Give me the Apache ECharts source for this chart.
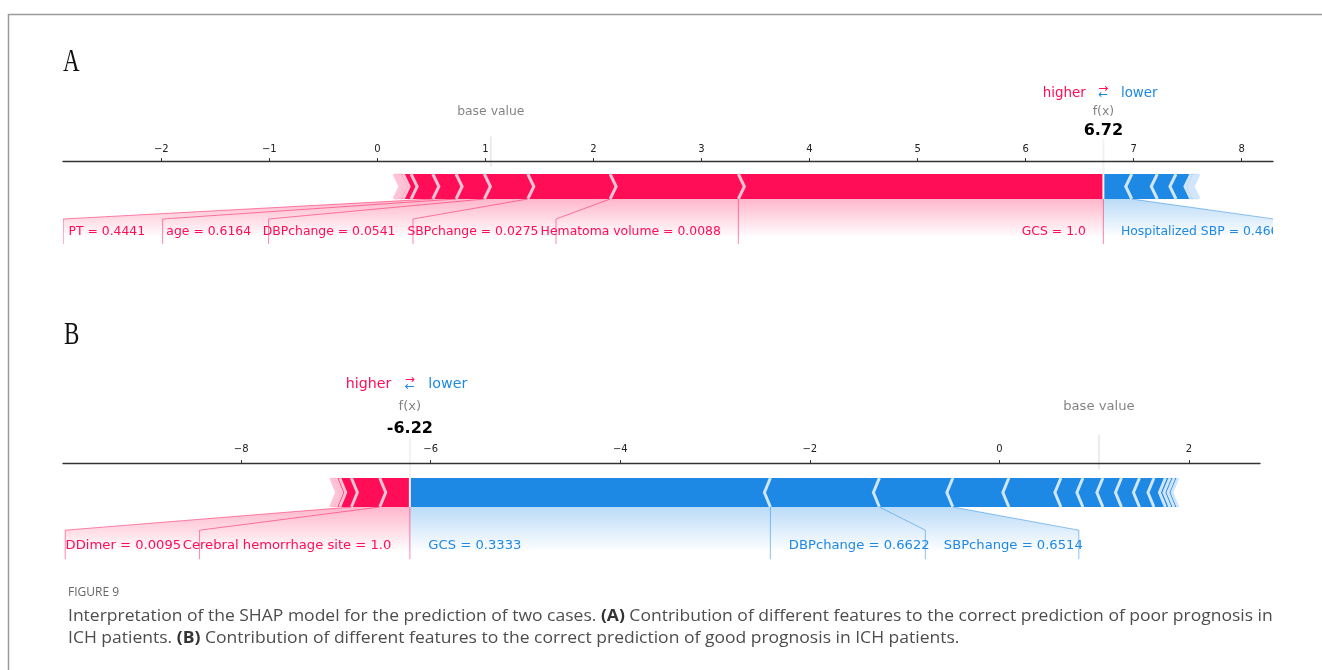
<!DOCTYPE html>
<html>
<head>
<meta charset="utf-8">
<script src="https://cdn.jsdelivr.net/npm/echarts@6/dist/echarts.min.js"></script>
<style>
  html, body { margin: 0; padding: 0; background: #fff; }
  #chart { width: 1322px; height: 670px; }
</style>
</head>
<body>
<div id="chart"></div>
<script>
// SHAP force plots for two ICH cases.
const baseValue = 1.05;

// Case A: poor prognosis
const fxA = 6.72;
const posNamesA = ['GCS', 'Hematoma volume', 'SBPchange', 'DBPchange', 'age', 'PT'];
const posFeatA = ['1.0', '0.0088', '0.0275', '0.0541', '0.6164', '0.4441'];
const posShapA = [3.379, 1.187, 0.762, 0.402, 0.262, 0.215, 0.201, 0.074, 0.030, 0.025, 0.015, 0.013];
const negNamesA = ['Hospitalized SBP'];
const negFeatA = ['0.4667'];
const negShapA = [0.263, 0.236, 0.173, 0.139, 0.030, 0.020, 0.014, 0.010];
const ticksA = [-2, -1, 0, 1, 2, 3, 4, 5, 6, 7, 8];
const rangeA = [-2.91, 8.29];

// Case B: good prognosis
const fxB = -6.22;
const posNamesB = ['Cerebral hemorrhage site', 'DDimer'];
const posFeatB = ['1.0', '0.0095'];
const posShapB = [0.318, 0.299, 0.123, 0.040, 0.030, 0.025];
const negNamesB = ['GCS', 'DBPchange', 'SBPchange'];
const negFeatB = ['0.3333', '0.6622', '0.6514'];
const negShapB = [3.804, 1.150, 0.775, 0.591, 0.549, 0.232, 0.211, 0.196, 0.190, 0.153, 0.121, 0.047, 0.043, 0.042];
const ticksB = [-8, -6, -4, -2, 0, 2];
const rangeB = [-9.88, 2.75];

// ---- drawing helpers ----
const RED = '#FF0D57', RED_L = '#FFC3D5', BLUE = '#1E88E5', BLUE_L = '#D1E6FA';
const FAM = 'DejaVu Sans';
const BAR_W = 0.1;         // bar thickness in y units
const OFFSET_K = 0.0218;   // text offset relative to total effect

const measureCtx = document.createElement('canvas').getContext('2d');
function textWidth(t, fs) {
  measureCtx.font = fs + 'px "' + FAM + '"';
  return measureCtx.measureText(t).width;
}
const sum = a => a.reduce((s, v) => s + v, 0);

// fs: label font size; layoutK: share of the label width used when placing brackets
function makePanel(fx, posShap, posNames, posFeat, negShap, negNames, negFeat, range, fs, layoutK) {
  return {
    fx, posShap, posNames, posFeat, negShap, negNames, negFeat, range, fs, layoutK,
    offset: OFFSET_K * (sum(posShap) + sum(negShap)),
    sepW: (range[1] - range[0]) / 200
  };
}
const panelA = makePanel(fxA, posShapA, posNamesA, posFeatA, negShapA, negNamesA, negFeatA, rangeA, 12.4, 0.80);
const panelB = makePanel(fxB, posShapB, posNamesB, posFeatB, negShapB, negNamesB, negFeatB, rangeB, 13.15, 0.815);

function barElements(api, P, positive) {
  const shap = positive ? P.posShap : P.negShap;
  const col = positive ? [RED, RED_L] : [BLUE, BLUE_L];
  const indent = positive ? P.sepW : -P.sepW;
  const C = p => api.coord(p);
  const rects = [], seps = [];
  let pre = P.fx;
  shap.forEach((v, i) => {
    let left, right, sepPos;
    if (positive) { right = pre; left = pre - v; pre = left; sepPos = left; }
    else { left = pre; right = pre + v; pre = right; sepPos = right; }
    let pts;
    if (i === 0) {
      pts = positive
        ? [[left, 0], [right, 0], [right, BAR_W], [left, BAR_W], [left + indent, BAR_W / 2]]
        : [[right, 0], [left, 0], [left, BAR_W], [right, BAR_W], [right + indent, BAR_W / 2]];
    } else {
      pts = [[left, 0], [right, 0], [right + indent * 0.9, BAR_W / 2], [right, BAR_W],
             [left, BAR_W], [left + indent * 0.9, BAR_W / 2]];
    }
    rects.push({ type: 'polygon', shape: { points: pts.map(C) }, style: { fill: col[0] } });
    seps.push({
      type: 'polyline',
      shape: { points: [[sepPos, 0], [sepPos + indent, BAR_W / 2], [sepPos, BAR_W]].map(C) },
      style: { stroke: col[1], lineWidth: 3, fill: null }
    });
  });
  return rects.concat(seps);
}

function labelElements(api, P, positive) {
  const shap = positive ? P.posShap : P.negShap;
  const names = positive ? P.posNames : P.negNames;
  const feats = positive ? P.posFeat : P.negFeat;
  const col = positive ? RED : BLUE;
  const lineCol = positive ? 'rgba(255,13,87,0.5)' : 'rgba(30,136,229,0.5)';
  const shadeCol = positive ? '255,13,87' : '30,136,229';
  const sign = positive ? 1 : -1;
  const X = v => api.coord([v, 0])[0];
  const Y = y => api.coord([0, y])[1];
  const offPx = P.offset * api.size([1, 0])[0];
  const pad = 0.25 * P.fs;
  const fxPx = X(P.fx);
  const lines = [], texts = [];
  let start = fxPx, preVal = fxPx, boxEnd = fxPx;
  const vline = x => ({ type: 'line', shape: { x1: x, y1: Y(0), x2: x, y2: Y(-0.18) },
                        style: { stroke: lineCol, lineWidth: 1 } });
  if (positive) lines.push(vline(fxPx));
  let cur = P.fx;
  for (let i = 0; i < names.length; i++) {
    cur = cur - sign * shap[i];
    const valPx = X(cur);
    const text = names[i] + ' = ' + feats[i];
    const tx = start - sign * offPx;
    texts.push({
      type: 'text', x: tx, y: Y(-0.15) - 0.35 * P.fs,
      style: { text, fill: col, fontSize: P.fs, fontFamily: FAM,
               align: positive ? 'right' : 'left', verticalAlign: 'middle' }
    });
    const be = tx - sign * (textWidth(text, P.fs) * P.layoutK + pad);
    if (sign * be > sign * valPx) {
      lines.push(vline(valPx));
      start = valPx; boxEnd = valPx;
    } else {
      boxEnd = be - sign * offPx;
      lines.push({ type: 'polyline',
        shape: { points: [[valPx, Y(0)], [boxEnd, Y(-0.08)], [boxEnd, Y(-0.18)]] },
        style: { stroke: lineCol, lineWidth: 1, fill: null } });
      start = boxEnd;
    }
    preVal = valPx;
  }
  const shade = {
    type: 'polygon',
    shape: { points: [[fxPx, Y(0)], [preVal, Y(0)], [boxEnd, Y(-0.08)], [boxEnd, Y(-0.2)], [fxPx, Y(-0.2)]] },
    style: { fill: new echarts.graphic.LinearGradient(0, 0, 0, 1, [
      { offset: 0, color: 'rgba(' + shadeCol + ',0.3)' },
      { offset: 0.775, color: 'rgba(' + shadeCol + ',0)' },
      { offset: 1, color: 'rgba(' + shadeCol + ',0)' }
    ]) }
  };
  return { shade, lines, texts };
}

function buildMain(api, P) {
  const neg = labelElements(api, P, false);
  const pos = labelElements(api, P, true);
  return [neg.shade, pos.shade]
    .concat(barElements(api, P, false), barElements(api, P, true))
    .concat(neg.lines, pos.lines, neg.texts, pos.texts);
}

function buildTop(api, P) {
  const X = v => api.coord([v, 0])[0];
  const Y = y => api.coord([0, y])[1];
  const offPx = P.offset * api.size([1, 0])[0];
  const fxPx = X(P.fx), bPx = X(baseValue);
  const mid = (yb, fs) => Y(yb) - 0.35 * fs;
  const hl = P.fs * 13 / 12;
  const txt = (x, y, text, fill, fs, align, weight) => ({
    type: 'text', x, y,
    style: { text, fill, fontSize: fs, fontFamily: FAM, fontWeight: weight || 'normal',
             align, verticalAlign: 'middle' }
  });
  return [
    { type: 'line', shape: { x1: bPx, y1: Y(0.13), x2: bPx, y2: Y(0.25) }, style: { stroke: '#EBEBEB', lineWidth: 2 } },
    txt(bPx, mid(0.33, P.fs), 'base value', 'rgba(0,0,0,0.5)', P.fs, 'center'),
    { type: 'line', shape: { x1: fxPx, y1: Y(0), x2: fxPx, y2: Y(0.24) }, style: { stroke: '#F2F2F2', lineWidth: 2 } },
    txt(fxPx, mid(0.33, P.fs), 'f(x)', 'rgba(0,0,0,0.5)', P.fs, 'center'),
    txt(fxPx, mid(0.25, 16), P.fx.toFixed(2), '#000', 16, 'center', 'bold'),
    txt(fxPx - offPx, mid(0.405, hl), 'higher', RED, hl, 'right'),
    txt(fxPx + offPx, mid(0.405, hl), 'lower', BLUE, hl, 'left'),
    txt(fxPx, mid(0.425, 12), '\u2192', RED, 12, 'center'),
    txt(fxPx, mid(0.4, 12), '\u2190', BLUE, 12, 'center')
  ];
}

function xAxisFor(range, ticks, gi, margin) {
  return {
    gridIndex: gi, type: 'value', position: 'top', min: range[0], max: range[1], z: 10,
    axisLine: { show: true, onZero: false, lineStyle: { color: '#333', width: 1.3 } },
    axisTick: { show: true, length: 3.5, customValues: ticks, lineStyle: { color: '#333', width: 1 } },
    axisLabel: {
      customValues: ticks, margin, fontSize: 10, fontFamily: FAM, color: '#222',
      formatter: v => (v < 0 ? '\u2212' + (-v) : String(v))
    },
    splitLine: { show: false }
  };
}

const capRich = { b: { fontFamily: 'Open Sans', fontSize: 16.3, fontWeight: 'bold', fill: '#333' } };

const chart = echarts.init(document.getElementById('chart'), null, { renderer: 'canvas' });
const option = {
  animation: false,
  backgroundColor: '#fff',
  grid: [
    { left: 63, right: 49, top: 161.5, height: 87.5 },
    { left: 63, right: 62, top: 463.5, height: 101.5 }
  ],
  xAxis: [xAxisFor(rangeA, ticksA, 0, 7), xAxisFor(rangeB, ticksB, 1, 9)],
  yAxis: [
    { gridIndex: 0, type: 'value', min: -0.2, max: 0.15, show: false },
    { gridIndex: 1, type: 'value', min: -0.2, max: 0.15, show: false }
  ],
  series: [
    { type: 'custom', xAxisIndex: 0, yAxisIndex: 0, clip: true, z: 2, silent: true, data: [[0, 0]],
      renderItem: (params, api) => ({ type: 'group', children: buildMain(api, panelA) }) },
    { type: 'custom', xAxisIndex: 0, yAxisIndex: 0, clip: false, z: 3, silent: true, data: [[0, 0]],
      renderItem: (params, api) => ({ type: 'group', children: buildTop(api, panelA) }) },
    { type: 'custom', xAxisIndex: 1, yAxisIndex: 1, clip: true, z: 2, silent: true, data: [[0, 0]],
      renderItem: (params, api) => ({ type: 'group', children: buildMain(api, panelB) }) },
    { type: 'custom', xAxisIndex: 1, yAxisIndex: 1, clip: false, z: 3, silent: true, data: [[0, 0]],
      renderItem: (params, api) => ({ type: 'group', children: buildTop(api, panelB) }) }
  ],
  graphic: [
    { type: 'line', shape: { x1: 8, y1: 14.5, x2: 1322, y2: 14.5 }, style: { stroke: '#9a9a9a', lineWidth: 1.5 } },
    { type: 'line', shape: { x1: 8.5, y1: 14, x2: 8.5, y2: 670 }, style: { stroke: '#9a9a9a', lineWidth: 1.5 } },
    { type: 'text', x: 63, y: 63, scaleX: 0.72,
      style: { text: 'A', fontFamily: 'Liberation Serif', fontSize: 32, fill: '#111', verticalAlign: 'middle' } },
    { type: 'text', x: 64, y: 336, scaleX: 0.72,
      style: { text: 'B', fontFamily: 'Liberation Serif', fontSize: 32, fill: '#111', verticalAlign: 'middle' } },
    { type: 'text', x: 68, y: 593,
      style: { text: 'FIGURE 9', fontFamily: 'Open Sans', fontSize: 12, fill: '#666', verticalAlign: 'middle' } },
    { type: 'text', x: 68, y: 616, scaleX: 1.075,
      style: {
        text: 'Interpretation of the SHAP model for the prediction of two cases. {b|(A)} Contribution of different features to the correct prediction of poor prognosis in',
        fontFamily: 'Open Sans', fontSize: 16.3, fill: '#4d4d4d', verticalAlign: 'middle', rich: capRich
      } },
    { type: 'text', x: 68, y: 638, scaleX: 1.075,
      style: {
        text: 'ICH patients. {b|(B)} Contribution of different features to the correct prediction of good prognosis in ICH patients.',
        fontFamily: 'Open Sans', fontSize: 16.3, fill: '#4d4d4d', verticalAlign: 'middle', rich: capRich
      } }
  ]
};
chart.setOption(option);
</script>
</body>
</html>
